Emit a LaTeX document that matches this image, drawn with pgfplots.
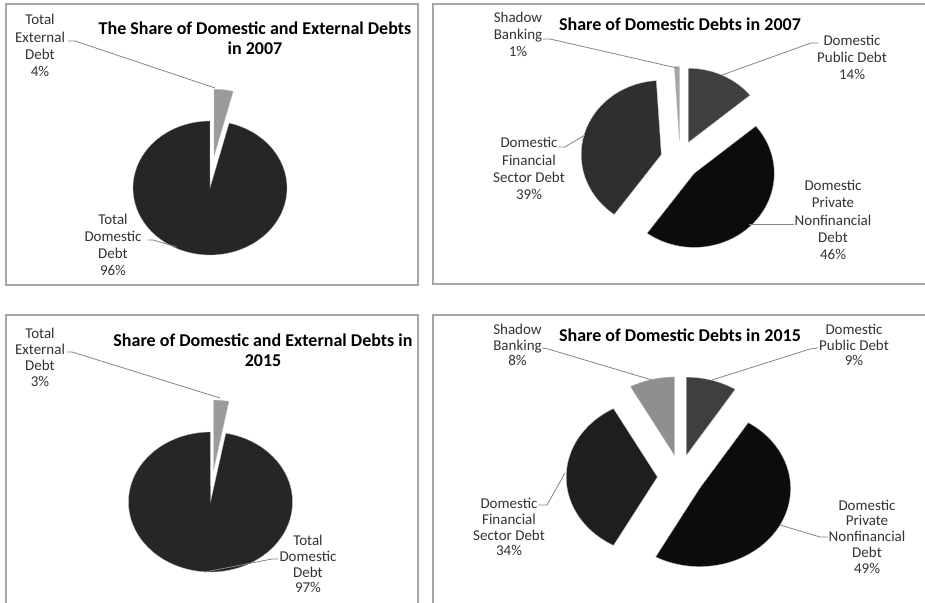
\documentclass[border=0pt]{standalone}
\usepackage{pgfplots}
\pgfplotsset{compat=1.18}
\usepackage{fontspec}
\setmainfont{Carlito}

\definecolor{framec}{HTML}{A6A6A6}
\definecolor{leadc}{HTML}{858585}
\definecolor{lblc}{HTML}{333333}
\definecolor{domA}{HTML}{262626}
\definecolor{extA}{HTML}{9B9B9B}
\definecolor{pubc}{HTML}{3F3F3F}
\definecolor{privc}{HTML}{0C0C0C}
\definecolor{finA}{HTML}{2F2F2F}
\definecolor{finB}{HTML}{1E1E1E}
\definecolor{shA}{HTML}{A5A5A5}
\definecolor{shB}{HTML}{8F8F8F}

\newcommand{\lblT}{\fontsize{15bp}{17.2bp}\selectfont\color{lblc}}
\newcommand{\lblB}{\fontsize{15bp}{15.8bp}\selectfont\color{lblc}}
\newcommand{\ttl}{\fontsize{18bp}{20bp}\selectfont\bfseries}

% #1 cx #2 cy #3 rx #4 ry #5 start share (%) #6 share (%) #7 explode #8 colour
\newcommand{\pieslice}[8]{%
  \pgfmathsetmacro\sa{3.6*(#5)}%
  \pgfmathsetmacro\ea{3.6*(#5+#6)}%
  \pgfmathsetmacro\ma{(\sa+\ea)/2}%
  \pgfmathsetmacro\ox{#1+(#7)*sin(\ma)}%
  \pgfmathsetmacro\oy{#2-(#7)*cos(\ma)}%
  \edef\temp{\noexpand\addplot[fill=#8, draw=gray!55, line width=0.3bp, domain=\sa:\ea, samples=90] ({\ox+#3*sin(x)},{\oy-#4*cos(x)}) -- (axis cs:\ox,\oy) -- cycle;}%
  \temp
}

\begin{document}
\begin{tikzpicture}
\begin{axis}[x=1bp, y=1bp, xmin=0, xmax=925, ymin=0, ymax=603, y dir=reverse,
  hide axis, clip=false]
\fill[white] (axis cs:0,0) rectangle (axis cs:925,603);
\coordinate (LL) at (axis cs:0,603);
\coordinate (UR) at (axis cs:925,0);

% ---------- frames ----------
\draw[framec, line width=1.2bp] (axis cs:6,4) rectangle (axis cs:418,285);
\draw[framec, line width=1.2bp] (axis cs:926,4) -- (axis cs:433,4) -- (axis cs:433,284) -- (axis cs:926,284);
\draw[framec, line width=1.2bp] (axis cs:418,604) -- (axis cs:418,315) -- (axis cs:6,315) -- (axis cs:6,604);
\draw[framec, line width=1.2bp] (axis cs:433,604) -- (axis cs:433,315) -- (axis cs:926,315);

% ---------- top left: 2007 domestic vs external ----------
\pieslice{210}{188}{77}{67}{0}{4}{32}{extA}
\pieslice{210}{188}{77}{67}{4}{96}{0}{domA}
\draw[leadc, line width=0.8bp] (axis cs:68,41) -- (axis cs:75,41) -- (axis cs:215,88);
\draw[leadc, line width=0.8bp] (axis cs:148,240) -- (axis cs:153,240) -- (axis cs:177,247);
\node[align=center, font=\ttl] at (axis cs:255,38) {The Share of Domestic and External Debts\\in 2007};
\node[align=center, font=\lblT] at (axis cs:40,45.5) {Total\\External\\Debt\\4\%};
\node[align=center, font=\lblT] at (axis cs:113,245) {Total\\Domestic\\Debt\\96\%};

% ---------- top right: 2007 domestic shares ----------
\pieslice{680}{160}{80}{74}{0}{14}{19.5}{pubc}
\pieslice{680}{160}{80}{74}{14}{46}{19.5}{privc}
\pieslice{680}{160}{80}{74}{60}{39}{19.5}{finA}
\pieslice{680}{160}{80}{74}{99}{1}{19.5}{shA}
\draw[leadc, line width=0.8bp] (axis cs:543,39) -- (axis cs:550,39) -- (axis cs:677,68);
\draw[leadc, line width=0.8bp] (axis cs:818,43) -- (axis cs:811,43) -- (axis cs:722,75);
\draw[leadc, line width=0.8bp] (axis cs:558,147) -- (axis cs:565,147) -- (axis cs:585,135);
\draw[leadc, line width=0.8bp] (axis cs:794,224) -- (axis cs:749,224);
\node[align=center, font=\ttl] at (axis cs:680,24) {Share of Domestic Debts in 2007};
\node[align=center, font=\lblT] at (axis cs:518,34.5) {Shadow\\Banking\\1\%};
\node[align=center, font=\lblT] at (axis cs:852,57.5) {Domestic\\Public Debt\\14\%};
\node[align=center, font=\lblT] at (axis cs:529,168.5) {Domestic\\Financial\\Sector Debt\\39\%};
\node[align=center, font=\lblT] at (axis cs:833,220) {Domestic\\Private\\Nonfinancial\\Debt\\46\%};

% ---------- bottom left: 2015 domestic vs external ----------
\pieslice{210.5}{502}{82}{70}{0}{3}{32}{extA}
\pieslice{210.5}{502}{82}{70}{3}{97}{0}{domA}
\draw[leadc, line width=0.8bp] (axis cs:67,352) -- (axis cs:72,352) -- (axis cs:220,398);
\draw[leadc, line width=0.8bp] (axis cs:278,559) -- (axis cs:272,559) -- (axis cs:205,572);
\node[align=center, font=\ttl] at (axis cs:263,350) {Share of Domestic and External Debts in\\2015};
\node[align=center, font=\lblB] at (axis cs:40,357.5) {Total\\External\\Debt\\3\%};
\node[align=center, font=\lblB] at (axis cs:308,564) {Total\\Domestic\\Debt\\97\%};

% ---------- bottom right: 2015 domestic shares ----------
\pieslice{680}{477}{91}{78}{0}{9}{22.7}{pubc}
\pieslice{680}{477}{91}{78}{9}{49}{22.7}{privc}
\pieslice{680}{477}{91}{78}{58}{34}{22.7}{finB}
\pieslice{680}{477}{91}{78}{92}{8}{22.7}{shB}
\draw[leadc, line width=0.8bp] (axis cs:542,348) -- (axis cs:548,349) -- (axis cs:652,380);
\draw[leadc, line width=0.8bp] (axis cs:818,348) -- (axis cs:810,349) -- (axis cs:712,380);
\draw[leadc, line width=0.8bp] (axis cs:538,505) -- (axis cs:547,505) -- (axis cs:565,473);
\draw[leadc, line width=0.8bp] (axis cs:828,537) -- (axis cs:820,537) -- (axis cs:780,525);
\node[align=center, font=\ttl] at (axis cs:680,335) {Share of Domestic Debts in 2015};
\node[align=center, font=\lblB] at (axis cs:517.5,345) {Shadow\\Banking\\8\%};
\node[align=center, font=\lblB] at (axis cs:854,345) {Domestic\\Public Debt\\9\%};
\node[align=center, font=\lblB] at (axis cs:509,527) {Domestic\\Financial\\Sector Debt\\34\%};
\node[align=center, font=\lblB] at (axis cs:867,536.5) {Domestic\\Private\\Nonfinancial\\Debt\\49\%};
\end{axis}
\pgfresetboundingbox
\path (LL) rectangle (UR);
\end{tikzpicture}
\end{document}
